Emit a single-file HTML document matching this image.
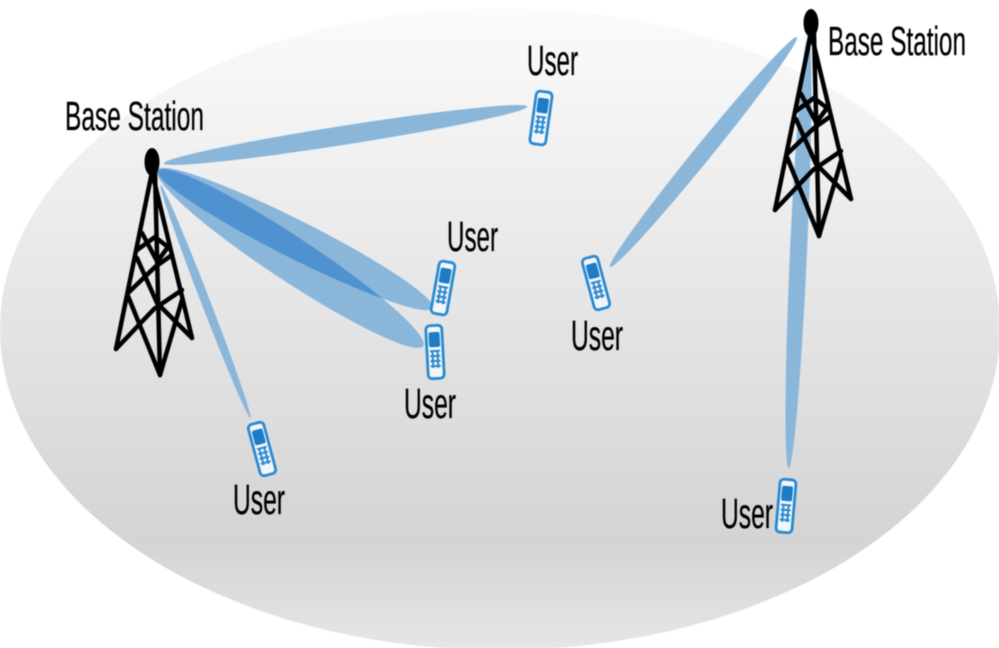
<!DOCTYPE html>
<html>
<head>
<meta charset="utf-8">
<style>
html,body{margin:0;padding:0;background:#fff;width:999px;height:648px;overflow:hidden}
svg{display:block;filter:blur(.6px)}
text{font-family:"Liberation Sans",sans-serif;font-size:43px;fill:#000;stroke:#000;stroke-width:.3px}
text.b{font-size:41px}
</style>
</head>
<body>
<svg width="999" height="648" viewBox="0 0 999 648" xmlns="http://www.w3.org/2000/svg">
<defs>
<linearGradient id="bg" gradientUnits="userSpaceOnUse" x1="0" y1="8" x2="0" y2="650">
<stop offset="0" stop-color="#fbfbfb"/>
<stop offset=".3" stop-color="#ededed"/>
<stop offset=".6" stop-color="#dfdfdf"/>
<stop offset=".83" stop-color="#d4d4d4"/>
<stop offset="1" stop-color="#e6e6e6"/>
</linearGradient>
<clipPath id="b2clip"><ellipse cx="295" cy="239" rx="154" ry="19" transform="rotate(26.7 295 239)"/></clipPath>
<g id="tower" fill="none" stroke="#000" stroke-width="4.500" stroke-linejoin="round" stroke-linecap="round">
<path d="M152 172L116 349M152 172L192 338M155 172L160 375"/>
<path d="M116 349L154 309L182 290"/>
<path d="M128 293L155 267L172 255"/>
<path d="M137 258L157 303L192 338"/>
<path d="M160 375L128 296"/>
<path d="M160 375L182 300"/>
<path d="M137 250L155 237L168 247"/>
<path d="M142 233L158 263"/>
<path d="M168 247L157 262"/>
<ellipse cx="152" cy="162" rx="7.500" ry="14" fill="#000" stroke="none"/>
</g>
<g id="phone">
<rect x="-8" y="-26.500" width="16" height="53" rx="4" fill="#f2f6fa" stroke="#2a8ad0" stroke-width="2.800"/>
<rect x="-5.500" y="-20" width="11" height="15" rx="2" fill="#1c7cc6"/>
<path d="M-5-1H5M-5 4H5M-5 9H5M-5 14H5M-2.500-2V16M2.500-2V16" stroke="#2a8ad0" stroke-width="2" fill="none"/>
</g>
</defs>
<ellipse cx="500" cy="329" rx="500" ry="321" fill="url(#bg)"/>
<g fill="#8ab6da">
<ellipse cx="345.500" cy="135" rx="184" ry="9.500" transform="rotate(-8.900 345.500 135)"/>
<ellipse cx="295" cy="239" rx="154" ry="19" transform="rotate(26.700 295 239)"/>
<ellipse cx="290.500" cy="258.500" rx="159" ry="22" transform="rotate(33.400 290.500 258.500)"/>
<ellipse cx="205.500" cy="301.500" rx="125" ry="4.500" transform="rotate(68.900 205.500 301.500)"/>
<ellipse cx="703.500" cy="152" rx="148" ry="8.500" transform="rotate(-50.900 703.500 152)"/>
<ellipse cx="798.500" cy="251.500" rx="217" ry="8.500" transform="rotate(92.600 798.500 251.500)"/>
</g>
<g clip-path="url(#b2clip)">
<ellipse fill="#4f92cf" cx="290.500" cy="258.500" rx="159" ry="22" transform="rotate(33.400 290.500 258.500)"/>
</g>
<use href="#tower"/>
<use href="#tower" transform="translate(659,-139)"/>
<use href="#phone" transform="translate(541,118) rotate(8)"/>
<use href="#phone" transform="translate(443,288) rotate(10)"/>
<use href="#phone" transform="translate(435,352) rotate(-3)"/>
<use href="#phone" transform="translate(262,449) rotate(-15)"/>
<use href="#phone" transform="translate(596,283) rotate(-15)"/>
<use href="#phone" transform="translate(786,506) rotate(5)"/>
<text class="b" x="65" y="130" textLength="139" lengthAdjust="spacingAndGlyphs">Base Station</text>
<text class="b" x="828" y="55" textLength="138" lengthAdjust="spacingAndGlyphs">Base Station</text>
<text x="527" y="75" textLength="51" lengthAdjust="spacingAndGlyphs">User</text>
<text x="447" y="251" textLength="51" lengthAdjust="spacingAndGlyphs">User</text>
<text x="404" y="418" textLength="52" lengthAdjust="spacingAndGlyphs">User</text>
<text x="233" y="514" textLength="52" lengthAdjust="spacingAndGlyphs">User</text>
<text x="571" y="350" textLength="52" lengthAdjust="spacingAndGlyphs">User</text>
<text x="721" y="528" textLength="52" lengthAdjust="spacingAndGlyphs">User</text>
</svg>
</body>
</html>
